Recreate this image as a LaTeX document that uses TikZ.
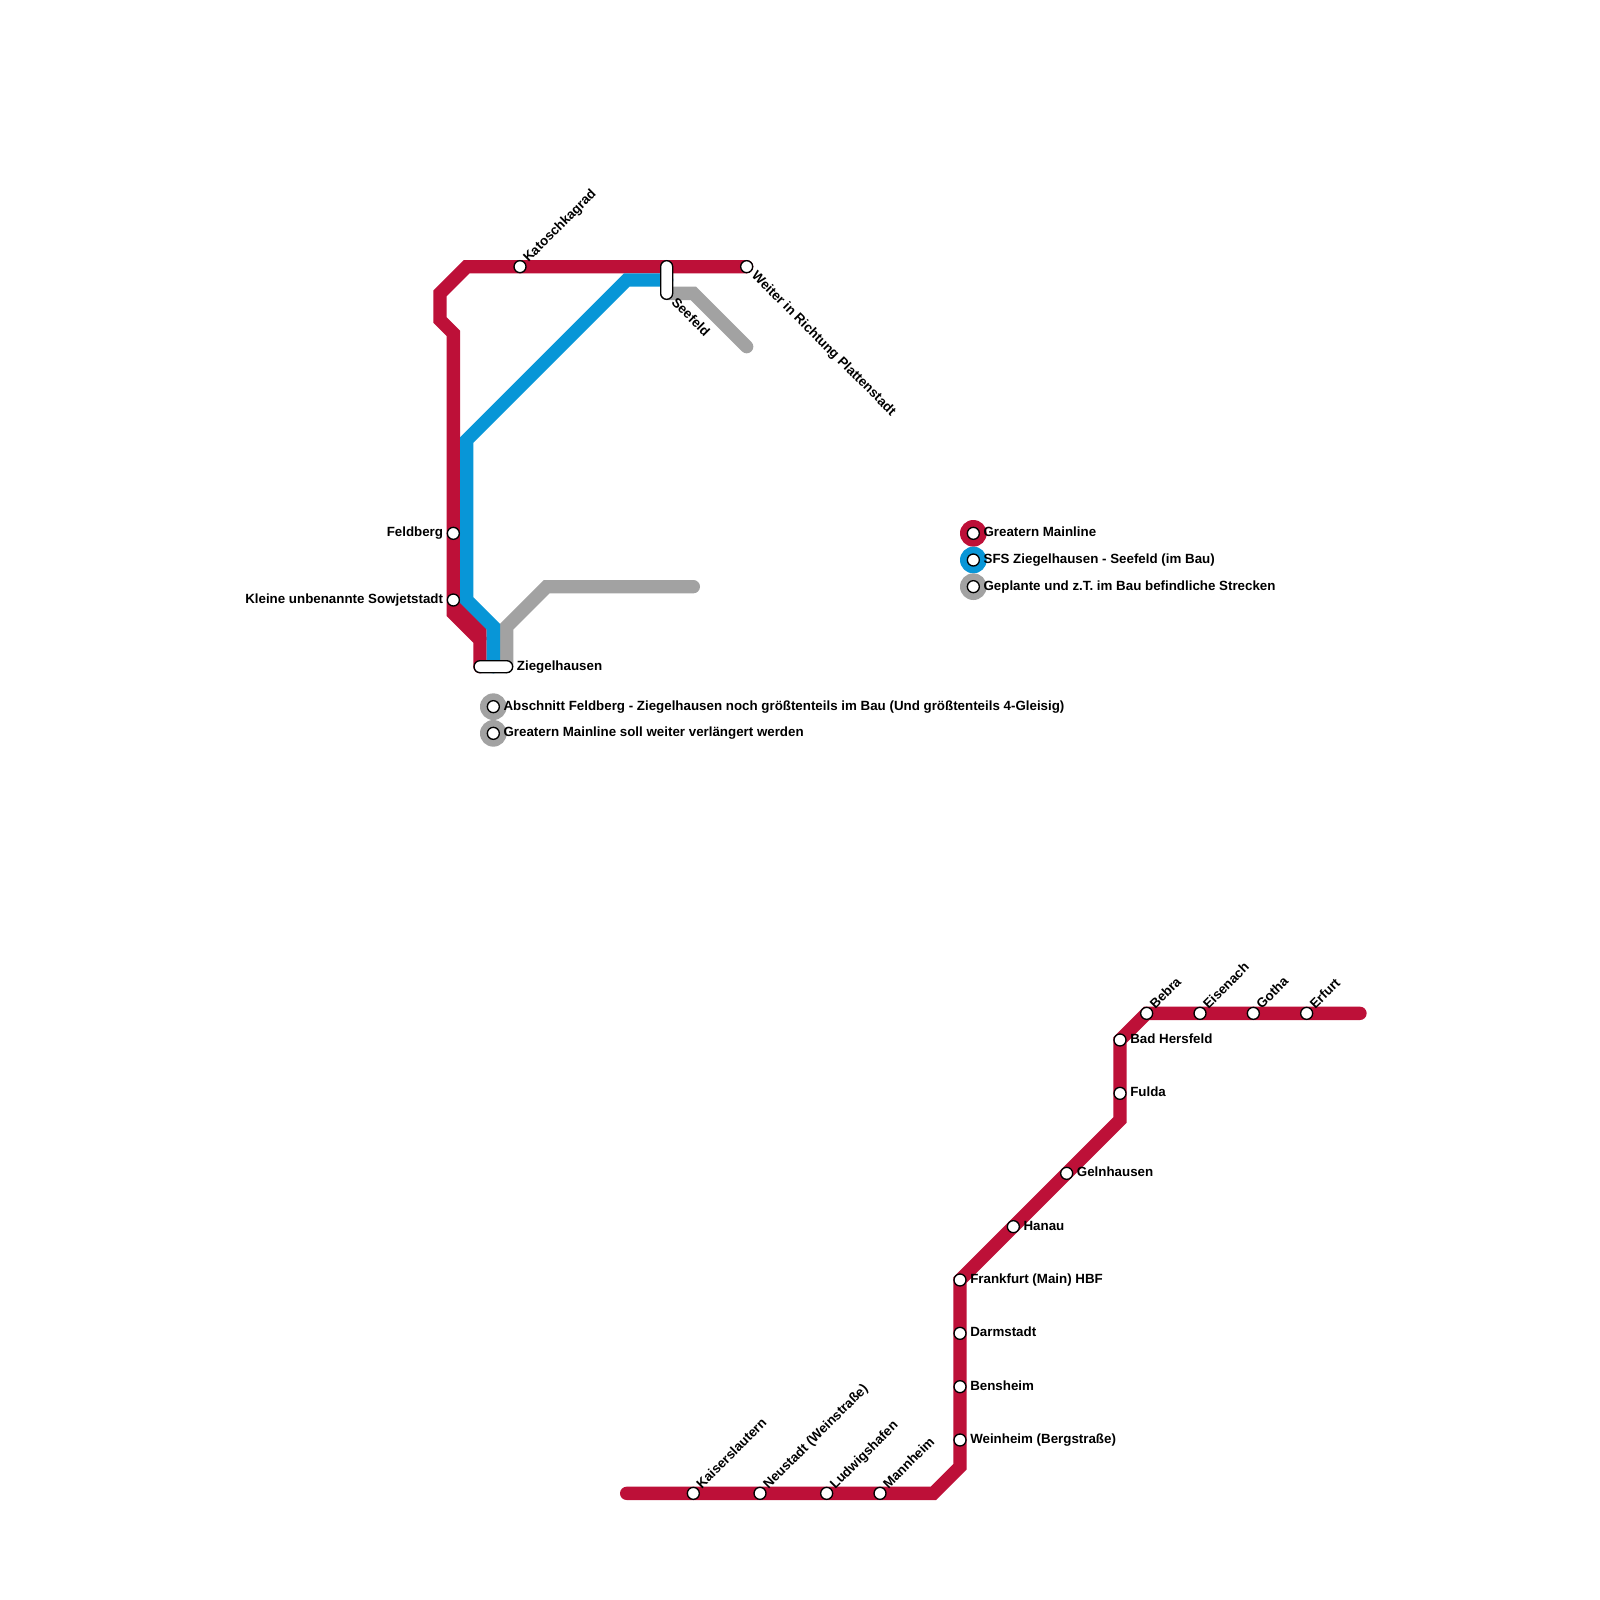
\documentclass[tikz,border=0pt]{standalone}
\usepackage{fontspec}
\setmainfont{Liberation Sans}
\definecolor{lred}{HTML}{BD1038}
\definecolor{lblue}{HTML}{0896D7}
\definecolor{lgray}{HTML}{A2A2A2}
\tikzset{
  route/.style={line width=10pt,line join=miter,line cap=round},
  stn/.style={circle,draw=black,fill=white,line width=1pt,minimum size=9pt,inner sep=0pt},
  longstn/.style={draw=black,fill=white,line width=1pt,rounded corners=4.5pt,inner sep=0pt},
  ring/.style={circle,minimum size=20pt,inner sep=0pt},
  lbl/.style={font=\bfseries\fontsize{10}{12}\selectfont,inner sep=0pt,text=black},
  lr/.style={lbl,anchor=base west},
  ll/.style={lbl,anchor=base east},
  lu/.style={lbl,anchor=base west,rotate=45},
  ld/.style={lbl,anchor=base west,rotate=-45}
}
\begin{document}
\begin{tikzpicture}[x=10pt,y=-10pt]
\useasboundingbox (0,0) rectangle (120,120);
\fill[white] (0,0) rectangle (120,120);
% stations and bends as coordinates
\foreach \n/\p in {
 a1/{56,20},a2/{35,20},a3/{33,22},a4/{33,24},a5/{34,25},a6/{34,46},a7/{36,48},a8/{36,50},
 f1/{34,45},f2/{36,47},
 b1/{50,21},b2/{47,21},b3/{35,33},b4/{35,45},b5/{37,47},b6/{37,50},
 c1/{38,50},c2/{38,47},c3/{41,44},c4/{52,44},
 d1/{50,22},d2/{52,22},d3/{56,26},
 e1/{47,112},e2/{70,112},e3/{72,110},e4/{72,96},e5/{84,84},e6/{84,78},e7/{86,76},e8/{102,76}}
 {\coordinate (\n) at (\p);}
% connectors
\draw[route,lgray] (c1)--(c2)--(c3)--(c4);
\draw[route,lgray] (d1)--(d2)--(d3);
\draw[route,lred] (a1)--(a2)--(a3)--(a4)--(a5)--(a6)--(a7)--(a8);
\draw[route,lred,line cap=butt] (f1)--(f2)--(a7);
\draw[route,lblue] (b1)--(b2)--(b3)--(b4)--(b5)--(b6);
\draw[route,lred] (e1)--(e2)--(e3)--(e4)--(e5)--(e6)--(e7)--(e8);
% long stations
\node[longstn,minimum width=29pt,minimum height=9pt] (zieg) at (37,50) {};
\node[longstn,minimum width=9pt,minimum height=29pt] (seef) at (50,21) {};
\node[lr] (lzieg) at (38.75,50.25) {Ziegelhausen};
\node[ld] (lseef) at (50.3,22.73) {Seefeld};
% stations
\node[stn] (kato) at (39,20) {};
\node[lu] (lkato) at (39.63,19.73) {Katoschkagrad};
\node[stn] (weit) at (56,20) {};
\node[ld] (lweit) at (56.32,20.73) {Weiter in Richtung Plattenstadt};
\node[stn] (feld) at (34,40) {};
\node[ll] (lfeld) at (33.25,40.25) {Feldberg};
\node[stn] (sowj) at (34,45) {};
\node[ll] (lsowj) at (33.25,45.25) {Kleine unbenannte Sowjetstadt};
% lower line
\node[stn] (kais) at (52,112) {};
\node[lu] (lkais) at (52.63,111.73) {Kaiserslautern};
\node[stn] (neus) at (57,112) {};
\node[lu] (lneus) at (57.63,111.73) {Neustadt (Weinstraße)};
\node[stn] (ludw) at (62,112) {};
\node[lu] (lludw) at (62.63,111.73) {Ludwigshafen};
\node[stn] (mann) at (66,112) {};
\node[lu] (lmann) at (66.63,111.73) {Mannheim};
\node[stn] (wein) at (72,108) {};
\node[lr] (lwein) at (72.75,108.25) {Weinheim (Bergstraße)};
\node[stn] (bens) at (72,104) {};
\node[lr] (lbens) at (72.75,104.25) {Bensheim};
\node[stn] (darm) at (72,100) {};
\node[lr] (ldarm) at (72.75,100.25) {Darmstadt};
\node[stn] (fran) at (72,96) {};
\node[lr] (lfran) at (72.75,96.25) {Frankfurt (Main) HBF};
\node[stn] (hana) at (76,92) {};
\node[lr] (lhana) at (76.75,92.25) {Hanau};
\node[stn] (geln) at (80,88) {};
\node[lr] (lgeln) at (80.75,88.25) {Gelnhausen};
\node[stn] (fuld) at (84,82) {};
\node[lr] (lfuld) at (84.75,82.25) {Fulda};
\node[stn] (badh) at (84,78) {};
\node[lr] (lbadh) at (84.75,78.25) {Bad Hersfeld};
\node[stn] (bebr) at (86,76) {};
\node[lu] (lbebr) at (86.63,75.73) {Bebra};
\node[stn] (eise) at (90,76) {};
\node[lu] (leise) at (90.63,75.73) {Eisenach};
\node[stn] (goth) at (94,76) {};
\node[lu] (lgoth) at (94.63,75.73) {Gotha};
\node[stn] (erfu) at (98,76) {};
\node[lu] (lerfu) at (98.63,75.73) {Erfurt};
% legends
\node[ring,fill=lred] (r1) at (73,40) {};
\node[stn] (s1) at (73,40) {};
\node[lr] (t1) at (73.75,40.25) {Greatern Mainline};
\node[ring,fill=lblue] (r2) at (73,42) {};
\node[stn] (s2) at (73,42) {};
\node[lr] (t2) at (73.75,42.25) {SFS Ziegelhausen - Seefeld (im Bau)};
\node[ring,fill=lgray] (r3) at (73,44) {};
\node[stn] (s3) at (73,44) {};
\node[lr] (t3) at (73.75,44.25) {Geplante und z.T. im Bau befindliche Strecken};
\node[ring,fill=lgray] (r4) at (37,53) {};
\node[stn] (s4) at (37,53) {};
\node[lr] (t4) at (37.75,53.25) {Abschnitt Feldberg - Ziegelhausen noch größtenteils im Bau (Und größtenteils 4-Gleisig)};
\node[ring,fill=lgray] (r5) at (37,55) {};
\node[stn] (s5) at (37,55) {};
\node[lr] (t5) at (37.75,55.25) {Greatern Mainline soll weiter verlängert werden};
\end{tikzpicture}
\end{document}
